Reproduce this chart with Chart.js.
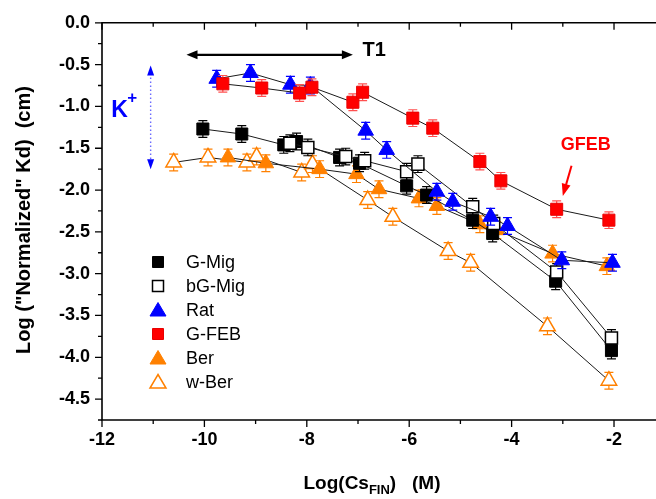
<!DOCTYPE html>
<html>
<head>
<meta charset="utf-8">
<script src="https://cdn.jsdelivr.net/npm/chart.js@4.4.0/dist/chart.umd.min.js"></script>
<style>
    html, body { margin: 0; padding: 0; background: #fff; }
    #wrap { width: 656px; height: 499px; }
</style>
</head>
<body>
<div id="wrap"><canvas id="myChart" width="656" height="499"></canvas></div>
<script>
// data
var gMigX = [-10.03, -9.27, -8.45, -8.20, -7.36, -6.97, -6.05, -5.66, -4.76, -4.37, -3.14, -2.05];
var gMigY = [-1.27, -1.33, -1.46, -1.42, -1.61, -1.68, -1.95, -2.06, -2.36, -2.52, -3.09, -3.92];

var bgMigX = [-8.33, -7.98, -7.24, -6.87, -6.05, -5.83, -4.76, -4.35, -3.12, -2.05];
var bgMigY = [-1.44, -1.49, -1.60, -1.65, -1.78, -1.69, -2.20, -2.40, -2.98, -3.77];

var ratX = [-9.76, -9.10, -8.32, -7.93, -6.85, -6.44, -5.46, -5.15, -4.41, -4.08, -3.02, -2.03];
var ratY = [-0.67, -0.60, -0.74, -0.75, -1.29, -1.52, -2.02, -2.14, -2.32, -2.43, -2.84, -2.87];

var gfebX = [-9.64, -8.88, -8.14, -7.90, -7.10, -6.91, -5.93, -5.54, -4.62, -4.21, -3.12, -2.10];
var gfebY = [-0.73, -0.78, -0.84, -0.77, -0.95, -0.83, -1.14, -1.26, -1.66, -1.89, -2.23, -2.36];

var berX = [-9.54, -8.80, -7.75, -7.03, -6.59, -5.81, -5.46, -4.62, -4.29, -3.20, -2.14];
var berY = [-1.61, -1.68, -1.75, -1.81, -1.99, -2.10, -2.19, -2.41, -2.48, -2.76, -2.91];

var wBerX = [-10.60, -9.93, -9.17, -8.98, -8.10, -7.89, -6.81, -6.32, -5.24, -4.80, -3.30, -2.10];
var wBerY = [-1.67, -1.61, -1.67, -1.60, -1.79, -1.69, -2.12, -2.32, -2.73, -2.87, -3.63, -4.28];

var ERR = 0.1;   // error bar half height (log units)

var FONT = "'Liberation Sans', Arial, sans-serif";

function pts(xs, ys) {
    return xs.map(function(x, i) { return {x: x, y: ys[i]}; });
}

function series(label, xs, ys, style, fill, edge, edgeW, errColor, order) {
    return {
        label: label,
        data: pts(xs, ys),
        showLine: true,
        borderColor: '#1a1a1a',
        borderWidth: 1,
        pointStyle: style,
        pointRadius: style === 'rect' ? 8.5 : 9,
        pointBackgroundColor: fill,
        pointBorderColor: edge,
        pointBorderWidth: edgeW,
        errColor: errColor,
        order: order
    };
}

// error bars under each dataset's markers
var errPlugin = {
    id: 'errBars',
    beforeDatasetDraw: function(chart, args) {
        var ds = chart.data.datasets[args.index];
        var ys = chart.scales.y, ctx = chart.ctx;
        ctx.save();
        ctx.strokeStyle = ds.errColor;
        ctx.lineWidth = 1.2;
        ds.data.forEach(function(p, i) {
            var px = args.meta.data[i].x;
            var top = ys.getPixelForValue(p.y + ERR), bot = ys.getPixelForValue(p.y - ERR);
            ctx.beginPath();
            ctx.moveTo(px, top); ctx.lineTo(px, bot);
            ctx.moveTo(px - 4.5, top); ctx.lineTo(px + 4.5, top);
            ctx.moveTo(px - 4.5, bot); ctx.lineTo(px + 4.5, bot);
            ctx.stroke();
        });
        ctx.restore();
    }
};

function arrowHead(ctx, x1, y1, x2, y2, len, half) {
    var a = Math.atan2(y2 - y1, x2 - x1);
    ctx.beginPath();
    ctx.moveTo(x2, y2);
    ctx.lineTo(x2 - len * Math.cos(a) + half * Math.sin(a), y2 - len * Math.sin(a) - half * Math.cos(a));
    ctx.lineTo(x2 - len * Math.cos(a) - half * Math.sin(a), y2 - len * Math.sin(a) + half * Math.cos(a));
    ctx.closePath();
    ctx.fill();
}

// frame, ticks, titles, legend and notes
var decoPlugin = {
    id: 'deco',
    afterDraw: function(chart) {
        var ctx = chart.ctx, a = chart.chartArea;
        var xs = chart.scales.x, ys = chart.scales.y;
        var X = function(v) { return xs.getPixelForValue(v); };
        var Y = function(v) { return ys.getPixelForValue(v); };
        ctx.save();

        // frame
        ctx.strokeStyle = '#000';
        ctx.lineWidth = 1.6;
        ctx.beginPath();
        ctx.moveTo(a.right + 2, a.top); ctx.lineTo(a.left, a.top);
        ctx.lineTo(a.left, a.bottom); ctx.lineTo(a.right + 2, a.bottom);
        ctx.stroke();

        ctx.lineWidth = 1.3;
        ctx.beginPath();
        xs.ticks.forEach(function(t) {
            if (!Number.isInteger(t.value)) return;
            var L = t.value % 2 === 0 ? 7 : 4;
            var px = X(t.value);
            ctx.moveTo(px, a.bottom); ctx.lineTo(px, a.bottom + L);
            ctx.moveTo(px, a.top); ctx.lineTo(px, a.top + L);
        });
        ys.ticks.forEach(function(t) {
            var q = Math.round(t.value * 4);
            var L = q % 2 === 0 ? 7 : 4;
            var py = Y(t.value);
            ctx.moveTo(a.left, py); ctx.lineTo(a.left - L, py);
        });
        ctx.stroke();

        // axis titles
        ctx.fillStyle = '#000';
        ctx.font = 'bold 20px ' + FONT;
        ctx.save();
        ctx.translate(30, 220);
        ctx.rotate(-Math.PI / 2);
        ctx.textAlign = 'center';
        ctx.textBaseline = 'alphabetic';
        ctx.fillText('Log ("Normalized" Kd)  (cm)', 0, 0);
        ctx.restore();

        var big = 'bold 19px ' + FONT, small = 'bold 13px ' + FONT;
        var p1 = 'Log(Cs', p2 = 'FIN', p3 = ')   (M)';
        ctx.font = big; var w1 = ctx.measureText(p1).width, w3 = ctx.measureText(p3).width;
        ctx.font = small; var w2 = ctx.measureText(p2).width;
        var tx = 372 - (w1 + w2 + w3) / 2, ty = 489;
        ctx.textAlign = 'left';
        ctx.font = big; ctx.fillText(p1, tx, ty);
        ctx.font = small; ctx.fillText(p2, tx + w1, ty + 5);
        ctx.font = big; ctx.fillText(p3, tx + w1 + w2, ty);

        // legend
        ctx.font = '18px ' + FONT;
        ctx.textBaseline = 'middle';
        chart.data.datasets.forEach(function(ds, i) {
            var ly = 262 + i * 24, lx = 158;
            ctx.fillStyle = ds.pointBackgroundColor;
            ctx.strokeStyle = ds.pointBorderColor;
            ctx.lineWidth = ds.pointBorderWidth;
            ctx.beginPath();
            if (ds.pointStyle === 'rect') {
                ctx.rect(lx - 5.5, ly - 5.5, 11, 11);
            } else {
                ctx.moveTo(lx, ly - 7.5);
                ctx.lineTo(lx + 8, ly + 6);
                ctx.lineTo(lx - 8, ly + 6);
                ctx.closePath();
            }
            ctx.fill();
            ctx.stroke();
            ctx.fillStyle = '#000';
            ctx.fillText(ds.label, 186, ly + 1);
        });

        // T1 arrow
        ctx.strokeStyle = '#000'; ctx.fillStyle = '#000';
        ctx.lineWidth = 2.2;
        var ax1 = X(-10.35), ax2 = X(-7.10), ay = Y(-0.383);
        ctx.beginPath(); ctx.moveTo(ax1 + 8, ay); ctx.lineTo(ax2 - 8, ay); ctx.stroke();
        arrowHead(ctx, ax2, ay, ax1, ay, 11, 4.5);
        arrowHead(ctx, ax1, ay, ax2, ay, 11, 4.5);
        ctx.font = 'bold 20px ' + FONT;
        ctx.textAlign = 'left';
        ctx.textBaseline = 'middle';
        ctx.fillText('T1', X(-6.91), Y(-0.33));

        // K+ and dotted range arrow
        ctx.fillStyle = '#0000ff';
        ctx.font = 'bold 23px ' + FONT;
        ctx.textBaseline = 'alphabetic';
        ctx.fillText('K', X(-11.82), Y(-1.13));
        ctx.font = 'bold 17px ' + FONT;
        ctx.textAlign = 'center';
        ctx.textBaseline = 'middle';
        ctx.fillText('+', X(-11.41), Y(-0.90));
        var kx = X(-11.05), k1 = Y(-0.51), k2 = Y(-1.75);
        ctx.strokeStyle = '#6a6aff';
        ctx.lineWidth = 1.4;
        ctx.setLineDash([1.5, 2.5]);
        ctx.beginPath(); ctx.moveTo(kx, k1 + 8); ctx.lineTo(kx, k2 - 8); ctx.stroke();
        ctx.setLineDash([]);
        arrowHead(ctx, kx, k2, kx, k1, 10, 3.5);
        arrowHead(ctx, kx, k1, kx, k2, 10, 3.5);

        // GFEB note
        ctx.fillStyle = '#ff0000'; ctx.strokeStyle = '#ff0000';
        ctx.font = 'bold 18px ' + FONT;
        ctx.fillText('GFEB', X(-2.55), Y(-1.465));
        var gx1 = X(-2.83), gy1 = Y(-1.71), gx2 = X(-3.0), gy2 = Y(-2.07);
        ctx.lineWidth = 2;
        ctx.beginPath(); ctx.moveTo(gx1, gy1); ctx.lineTo(gx1 + (gx2 - gx1) * 0.7, gy1 + (gy2 - gy1) * 0.7); ctx.stroke();
        arrowHead(ctx, gx1, gy1, gx2, gy2, 12, 4.5);

        ctx.restore();
    }
};

var ctx = document.getElementById('myChart').getContext('2d');
var chart = new Chart(ctx, {
    type: 'scatter',
    data: {
        datasets: [
            series('G-Mig', gMigX, gMigY, 'rect', '#000000', '#000000', 1, '#000000', 4),
            series('bG-Mig', bgMigX, bgMigY, 'rect', '#ffffff', '#000000', 1.5, '#000000', 3),
            series('Rat', ratX, ratY, 'triangle', '#0000ff', '#0000ff', 1, '#0000ff', 2),
            series('G-FEB', gfebX, gfebY, 'rect', '#ff0000', '#e80000', 1, '#ff5050', 1),
            series('Ber', berX, berY, 'triangle', '#ff8000', '#ff8000', 1, '#ff8000', 5),
            series('w-Ber', wBerX, wBerY, 'triangle', '#ffffff', '#ff8000', 1.5, '#ff8000', 6)
        ]
    },
    options: {
        responsive: false,
        animation: false,
        devicePixelRatio: 1,
        events: [],
        layout: { autoPadding: false, padding: { top: 16, right: 0, left: 0, bottom: 0 } },
        plugins: {
            legend: { display: false },
            tooltip: { enabled: false }
        },
        scales: {
            x: {
                type: 'linear',
                min: -12,
                max: -1.18,
                grid: { display: false, drawTicks: false },
                border: { display: false },
                afterFit: function(s) { s.height = 79; },
                ticks: {
                    stepSize: 1,
                    includeBounds: false,
                    autoSkip: false,
                    maxRotation: 0,
                    padding: 9,
                    color: '#000',
                    font: { family: FONT, size: 18, weight: 'bold' },
                    callback: function(v) {
                        return (Number.isInteger(v) && v % 2 === 0) ? String(v) : '';
                    }
                }
            },
            y: {
                type: 'linear',
                min: -4.75,
                max: 0,
                grid: { display: false, drawTicks: false },
                border: { display: false },
                afterFit: function(s) { s.width = 102; },
                ticks: {
                    stepSize: 0.25,
                    autoSkip: false,
                    padding: 12,
                    color: '#000',
                    font: { family: FONT, size: 18, weight: 'bold' },
                    callback: function(v) {
                        var q = Math.round(v * 4);
                        return q % 2 === 0 ? (q / 4).toFixed(1) : '';
                    }
                }
            }
        }
    },
    plugins: [errPlugin, decoPlugin]
});
</script>
</body>
</html>
